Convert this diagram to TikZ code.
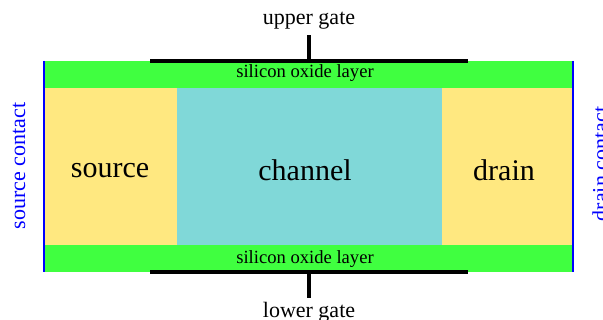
\documentclass[tikz,border=0pt]{standalone}
\usepackage{fontspec}
\setmainfont{Liberation Serif}
\definecolor{oxide}{RGB}{64,255,64}
\definecolor{doped}{RGB}{255,232,128}
\definecolor{chan}{RGB}{128,216,216}
\tikzset{
  gate/.style={line width=2pt},
  contact/.style={blue,line width=1pt},
  region/.style={font=\fontsize{15}{17}\selectfont,anchor=base},
  oxidetext/.style={font=\fontsize{9.3}{11}\selectfont,anchor=base},
  label/.style={font=\fontsize{11}{13}\selectfont,anchor=base}
}
\begin{document}
\begin{tikzpicture}[x=0.5pt,y=-0.5pt]
\useasboundingbox (0,0) rectangle (603,320);
% layers
\fill[oxide] (44,61) rectangle (573,88);
\fill[oxide] (44,245) rectangle (573,272);
\fill[doped] (44,88) rectangle (177,245);
\fill[chan] (177,88) rectangle (442,245);
\fill[doped] (442,88) rectangle (573,245);
\node[region] (src) at (110,177) {source};
\node[region] (ch) at (305,180) {channel};
\node[region] (drn) at (504,180) {drain};
\node[oxidetext] (ox1) at (305,78) {silicon oxide layer};
\node[oxidetext] (ox2) at (305,263) {silicon oxide layer};
% gates
\coordinate (g1a) at (150,61); \coordinate (g1b) at (468,61); \coordinate (g1m) at (309,61);
\coordinate (g2a) at (150,272); \coordinate (g2b) at (468,272); \coordinate (g2m) at (309,272);
\node[label] (ug) at (309,25) {upper gate};
\node[label] (lg) at (309,317) {lower gate};
\draw[gate] (g1a) -- (g1b);
\draw[gate] (g1m) -- (309,35);
\draw[gate] (g2a) -- (g2b);
\draw[gate] (g2m) -- (309,298);
% contacts
\coordinate (s1) at (44,61); \coordinate (s2) at (44,272);
\coordinate (d1) at (573,61); \coordinate (d2) at (573,272);
\draw[contact] (s1) -- (s2);
\draw[contact] (d1) -- (d2);
\node[label,blue,rotate=90,anchor=center] (sc) at (19,166) {source contact};
\node[label,blue,rotate=90,anchor=center] (dc) at (600,164) {drain contact};
\end{tikzpicture}
\end{document}
